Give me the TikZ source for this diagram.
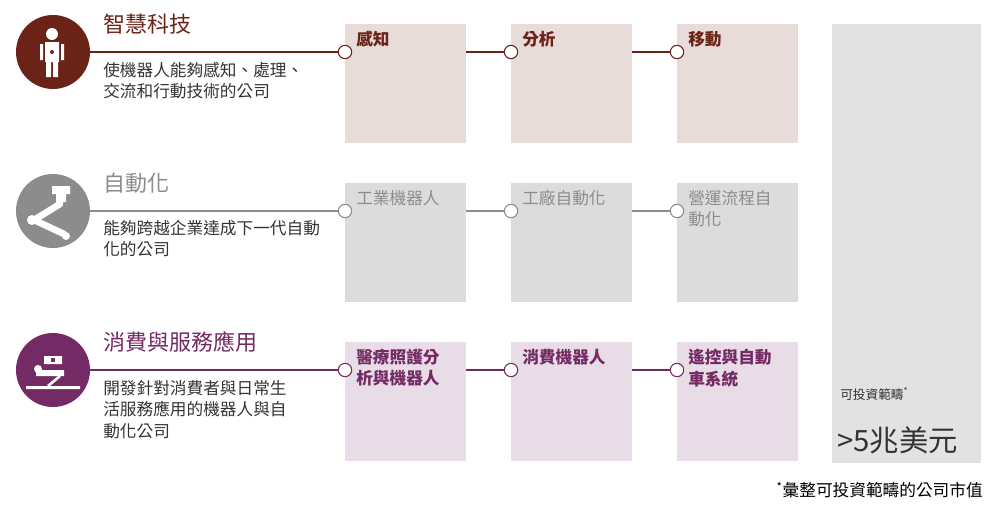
\documentclass[tikz,border=0pt]{standalone}
\usepackage{fontspec}
\newfontfamily\cjk{Noto Sans CJK TC}
\definecolor{smart}{HTML}{6B2318}
\definecolor{smartbox}{HTML}{E8DCDA}
\definecolor{autom}{HTML}{8C8C8C}
\definecolor{autombox}{HTML}{DCDCDC}
\definecolor{cons}{HTML}{742A64}
\definecolor{consbox}{HTML}{E8DDE6}
\definecolor{bigbox}{HTML}{E2E2E2}
\tikzset{
  celltext/.style={anchor=north west, align=left, inner sep=0pt},
  knot/.style={circle, draw, fill=white, minimum size=10pt, inner sep=0pt, line width=0.8pt},
  title/.style={anchor=west, font=\cjk\fontsize{16.5}{18}\selectfont, inner sep=0pt},
  desc/.style={anchor=north west, align=left, font=\cjk\fontsize{12.5}{16}\selectfont, text=black!80, inner sep=0pt},
}
\begin{document}
\begin{tikzpicture}[x=0.75pt,y=-0.75pt]
\useasboundingbox (0,0) rectangle (1000,518);
% big range box
\fill[bigbox] (832,24) rectangle (981,463);
\node[anchor=west, inner sep=0pt, font=\cjk\fontsize{9.5}{10}\selectfont, text=black!80] (rangelbl) at (840,394) {可投資範疇\textsuperscript{*}};
\node[anchor=west, inner sep=0pt, font=\cjk\fontsize{22}{24}\selectfont, text=black!80] (rangeval) at (837,440) {>5兆美元};
\node[anchor=east, inner sep=0pt, font=\cjk\fontsize{12.5}{14}\selectfont] (foot) at (983,490) {\textsuperscript{*}彙整可投資範疇的公司市值};
% rows
\foreach \y/\c/\b/\t/\w/\la/\lb/\lc [count=\i] in {
  52/smart/smartbox/智慧科技/\bfseries/感知/分析/移動,
  211/autom/autombox/自動化//工業機器人/工廠自動化/{營運流程自\\動化},
  370/cons/consbox/消費與服務應用/\bfseries/{醫療照護分\\析與機器人}/消費機器人/{遙控與自動\\車系統}}{
  \fill[\b] (345,\y-28) rectangle ++(121,119);
  \fill[\b] (511,\y-28) rectangle ++(121,119);
  \fill[\b] (677,\y-28) rectangle ++(121,119);
  \fill[\c] (53,\y) circle (37);
  \node[knot, draw=\c] (ka\i) at (345,\y) {};
  \node[knot, draw=\c] (kb\i) at (511,\y) {};
  \node[knot, draw=\c] (kc\i) at (677,\y) {};
  \draw[\c, line width=0.8pt] (90,\y) -- (ka\i) (466,\y) -- (kb\i) (632,\y) -- (kc\i);
  \node[title, text=\c] (title\i) at (103,\y-28) {\t};
  \node[celltext, text=\c, font=\cjk\w\fontsize{12.5}{16}\selectfont] (ca\i) at (356,\y-21) {\la};
  \node[celltext, text=\c, font=\cjk\w\fontsize{12.5}{16}\selectfont] (cb\i) at (522,\y-21) {\lb};
  \node[celltext, text=\c, font=\cjk\w\fontsize{12.5}{16}\selectfont] (cc\i) at (688,\y-21) {\lc};
}
\node[desc] (desc1) at (103,62) {使機器人能夠感知、處理、\\交流和行動技術的公司};
\node[desc] (desc2) at (103,220) {能夠跨越企業達成下一代自動\\化的公司};
\node[desc] (desc3) at (103,380) {開發針對消費者與日常生\\活服務應用的機器人與自\\動化公司};
% robot icon
\fill[white] (52,34) circle (6) (45,42) rectangle (59,62) (46,62) rectangle (51,77) (53,62) rectangle (58,77)
  (40,44) rectangle (43,60) (61,44) rectangle (64,60);
\fill[smart] (52,52) circle (2);
% arm icon
\fill[white] (52,186) rectangle (70,194) (56,194) rectangle (66,202);
\draw[white, line width=5pt, line cap=round] (60,204) -- (34,220) -- (64,234);
\fill[white] (32,220) circle (5) (66,236) circle (4);
% care icon
\fill[white] (44,356) rectangle (62,364) (36,370) rectangle (64,376) (26,386) rectangle (80,389);
\draw[white, line width=2pt] (60,376) -- (48,386);
\fill[white] (38,369) circle (4);
\fill[cons] (51,358) rectangle (55,362);
\end{tikzpicture}
\end{document}
